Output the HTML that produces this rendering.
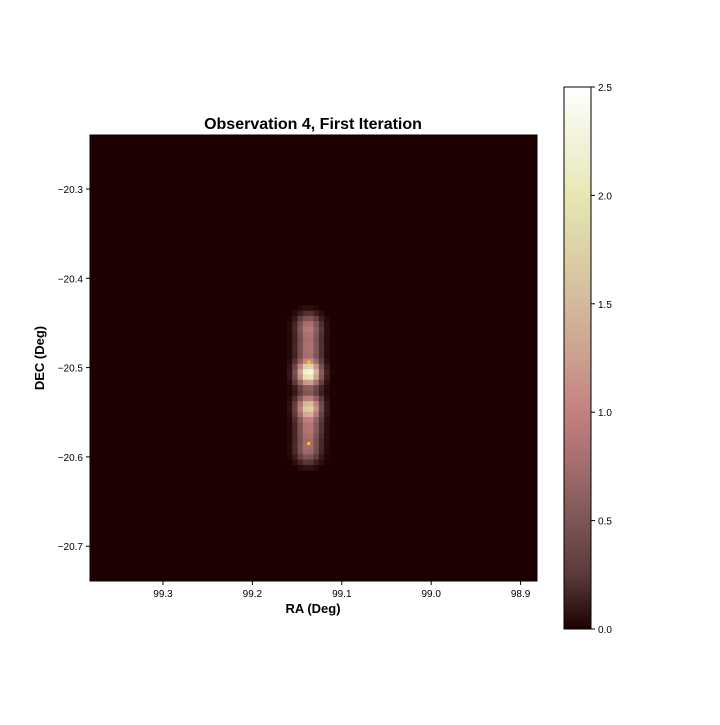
<!DOCTYPE html>
<html><head><meta charset="utf-8"><style>
body{margin:0;background:#fff;font-family:"Liberation Sans",sans-serif}
svg text{font-family:"Liberation Sans",sans-serif}
</style></head><body>
<svg id="chart" width="720" height="720" xmlns="http://www.w3.org/2000/svg">
<defs><linearGradient id="cg" x1="0" y1="1" x2="0" y2="0">
<stop offset="0" stop-color="#1e0000"/><stop offset="0.1" stop-color="#5a3a3a"/><stop offset="0.2" stop-color="#7d5555"/><stop offset="0.3" stop-color="#a36c6c"/><stop offset="0.4" stop-color="#c48080"/><stop offset="0.5" stop-color="#cba08e"/><stop offset="0.6" stop-color="#d4b99c"/><stop offset="0.7" stop-color="#dcd2a6"/><stop offset="0.8" stop-color="#e7e7b4"/><stop offset="0.9" stop-color="#f2f2da"/><stop offset="1" stop-color="#ffffff"/>
</linearGradient></defs>
<g id="cells"></g>
<g id="axes"></g>
</svg>
<script>
const srcRA=[99.137,99.137,99.137,99.137,99.137,99.138];
const srcDec=[-20.455,-20.478,-20.506,-20.545,-20.57,-20.592];
const srcAmp=[0.9,0.8,2.4,1.8,0.8,0.75];
const xTicks=[99.3,99.2,99.1,99.0,98.9];
const yTicks=[-20.3,-20.4,-20.5,-20.6,-20.7];
const cTicks=[0.0,0.5,1.0,1.5,2.0,2.5];
const markRA=[99.137,99.137];
const markDec=[-20.494,-20.585];
const NS="http://www.w3.org/2000/svg";
const L=90,R=537,T=135,B=581;
const xs=v=>163+(99.3-v)/0.1*89.4;
const ys=v=>189+(-20.3-v)/0.1*89.3;
const cs=v=>629-v/2.5*542;
const stops=[[30,0,0],[90,58,58],[125,85,85],[163,108,108],[196,128,128],[203,160,142],[212,185,156],[220,210,166],[231,231,180],[242,242,218],[255,255,255]];
function col(v){let t=Math.max(0,Math.min(1,v/2.5))*10;let i=Math.min(9,Math.floor(t)),f=t-i;let a=stops[i],b=stops[i+1];return`rgb(${a.map((c,k)=>Math.round(c+(b[k]-c)*f)).join(',')})`;}
function el(tag,at,p){const e=document.createElementNS(NS,tag);for(const k in at)e.setAttribute(k,at[k]);(p||document.getElementById('chart')).appendChild(e);return e;}
const g=document.getElementById('cells');
el('rect',{x:L,y:T,width:R-L,height:B-T,fill:col(0)},g);
const N=84,cw=(R-L)/N;
for(let i=0;i<N;i++)for(let j=0;j<N;j++){
 const cx=L+(i+0.5)*cw,cy=T+(j+0.5)*cw;
 const ra=99.3-(cx-163)/89.4*0.1,dec=-20.3-(cy-189)/89.3*0.1;
 let v=0;for(let k=0;k<srcRA.length;k++){const dx=(ra-srcRA[k])/0.0085,dy=(dec-srcDec[k])/0.0095;v+=srcAmp[k]*Math.exp(-0.5*(dx*dx+dy*dy));}
 if(v<0.02)continue;
 const r=el('rect',{x:L+i*cw,y:T+j*cw,width:cw+0.3,height:cw+0.3,fill:col(v)},g);
 
 
}
for(let k=0;k<markRA.length;k++){const m=el('rect',{x:xs(markRA[k])-1.5,y:ys(markDec[k])-1.5,width:3,height:3,fill:'#ffcc00'});
 
 }
const a=document.getElementById('axes');
el('rect',{x:L,y:T,width:R-L,height:B-T,fill:'none',stroke:'#000','stroke-width':1},a);
xTicks.forEach(v=>{const x=xs(v);el('line',{x1:x,x2:x,y1:B,y2:B+4,stroke:'#000'},a);const t=el('text',{x:x,y:B+16,'font-size':10,'text-anchor':'middle'},a);t.textContent=v.toFixed(1);
 
 });
yTicks.forEach(v=>{const y=ys(v);el('line',{x1:L-4,x2:L,y1:y,y2:y,stroke:'#000'},a);const t=el('text',{x:L-7,y:y+4,'font-size':10,'text-anchor':'end'},a);t.textContent='\u2212'+Math.abs(v).toFixed(1);
 
 });
el('rect',{x:564,y:87,width:27,height:542,fill:'url(#cg)',stroke:'#000','stroke-width':1,},a);
cTicks.forEach(v=>{const y=cs(v);el('line',{x1:591,x2:595,y1:y,y2:y,stroke:'#000'},a);const t=el('text',{x:598,y:y+4,'font-size':10},a);t.textContent=v.toFixed(1);
 
 });
</script>
<svg style="position:absolute;left:0;top:0" width="720" height="720">
<text x="313" y="129" font-size="16" font-weight="bold" text-anchor="middle">Observation 4, First Iteration</text>
<text x="313" y="613" font-size="13" font-weight="bold" text-anchor="middle">RA (Deg)</text>
<text x="44" y="358" font-size="13" font-weight="bold" text-anchor="middle" transform="rotate(-90 44 358)">DEC (Deg)</text>
</svg>
</body></html>
